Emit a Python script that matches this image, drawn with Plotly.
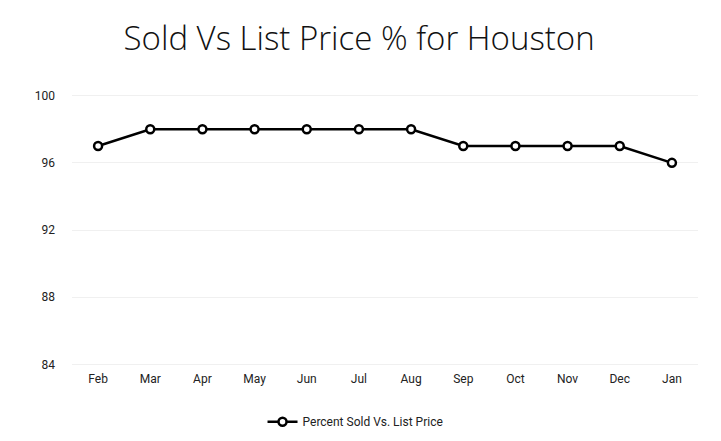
import plotly.graph_objects as go

months = ["Feb", "Mar", "Apr", "May", "Jun", "Jul", "Aug", "Sep", "Oct", "Nov", "Dec", "Jan"]
pct_sold = [97, 98, 98, 98, 98, 98, 98, 97, 97, 97, 97, 96]
y_ticks = [84, 88, 92, 96, 100]

fig = go.Figure()
fig.add_trace(go.Scatter(
    x=months, y=pct_sold, mode="lines+markers",
    name="Percent Sold Vs. List Price",
    line=dict(color="#000000", width=2.5),
    marker=dict(symbol="circle", size=8, color="#ffffff", line=dict(color="#000000", width=2.5)),
))

fig.update_layout(
    width=721, height=441,
    paper_bgcolor="white", plot_bgcolor="white",
    margin=dict(l=64, r=31, t=86, b=83, autoexpand=False),
    title=dict(text="Sold Vs List Price % for Houston", x=0.487, xanchor="center", y=0.932, yanchor="middle",
               font=dict(family="Open Sans", size=33, color="#111111", weight=300)),
    font=dict(family="Roboto", size=12, color="#222222"),
    showlegend=True,
    legend=dict(orientation="h", xref="container", x=0.482, xanchor="center", y=-0.205, yanchor="middle",
                font=dict(family="Roboto", size=12, color="#222222")),
    xaxis=dict(type="category", showgrid=False, showline=False, zeroline=False, ticks="", ticklen=0,
               automargin=False, range=[-0.5, 11.5], ticklabelstandoff=4),
    yaxis=dict(range=[83.9, 100.1], tickvals=y_ticks, showgrid=True, gridcolor="#f0f0f0", zeroline=False,
               showline=False, ticks="", ticklabelstandoff=16, automargin=False),
)

fig.write_html("out.html")
